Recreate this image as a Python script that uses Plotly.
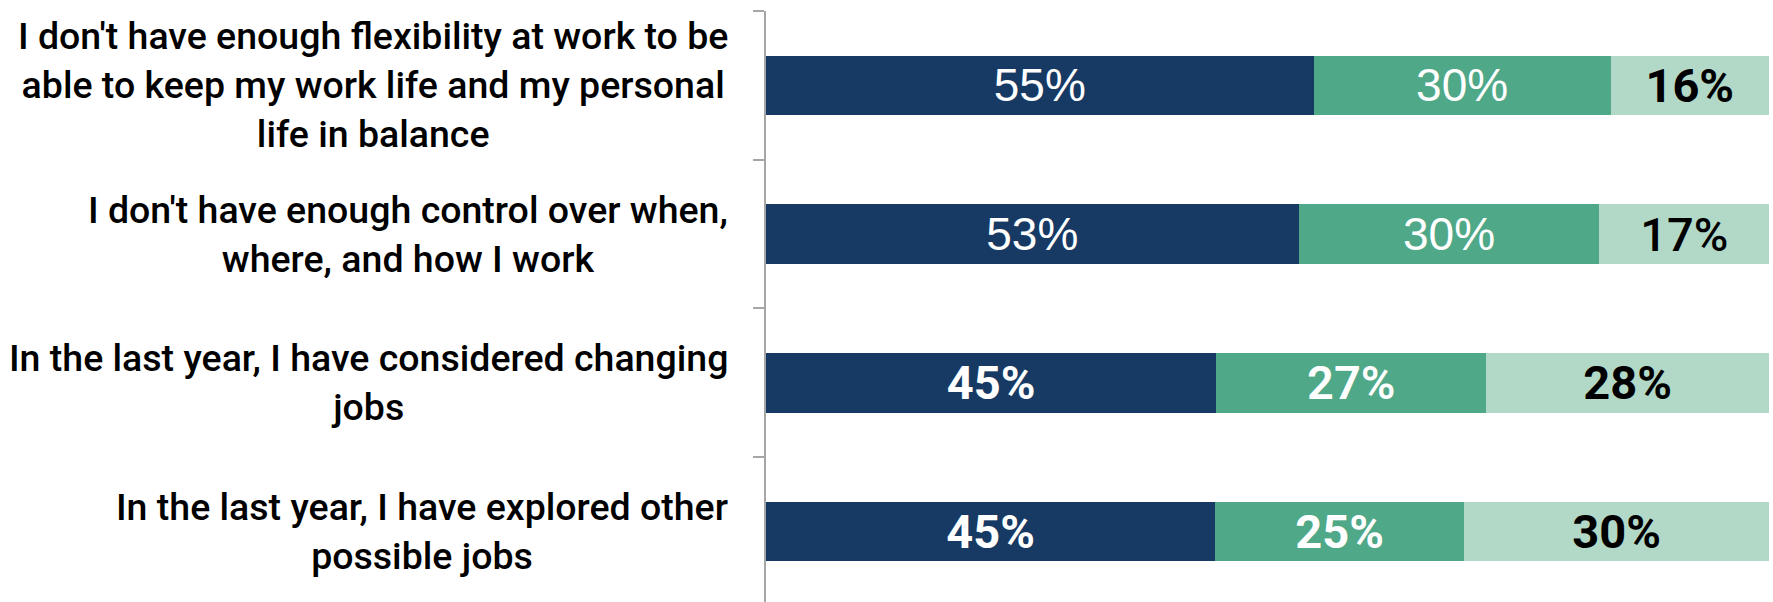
import plotly.graph_objects as go

categories = [
    "I don't have enough flexibility at work to be<br>able to keep my work life and my personal<br>life in balance",
    "I don't have enough control over when,<br>where, and how I work",
    "In the last year, I have considered changing<br>jobs",
    "In the last year, I have explored other<br>possible jobs",
]
series_a = [54.6, 53.1, 44.9, 44.8]
series_b = [29.6, 30.0, 26.9, 24.8]
series_c = [15.8, 16.9, 28.2, 30.4]

weight_a = [400, 400, 700, 700]
weight_b = [400, 400, 600, 700]
weight_c = [700, 500, 700, 700]

colors = ["#173a64", "#4fa888", "#b2d8c8"]
text_colors = ["white", "white", "black"]

order = list(reversed(categories))

fig = go.Figure()
for vals, wts, col, tcol in zip([series_a, series_b, series_c],
                                [weight_a, weight_b, weight_c], colors, text_colors):
    texts = [f"{v:.0f}%" for v in vals]
    fams = ["Liberation Sans" if w == 400 else "Roboto" for w in wts]
    sizes = [46 if w == 400 else 47 for w in wts]
    fig.add_trace(go.Bar(
        y=categories, x=vals, orientation="h",
        marker=dict(color=col, line=dict(width=0)),
        width=0.4,
        text=texts, textposition="inside", insidetextanchor="middle",
        textfont=dict(color=tcol, family=fams, size=sizes, weight=wts),
        constraintext="none",
        hoverinfo="skip",
        showlegend=False,
    ))

for cat in categories:
    fig.add_annotation(
        x=0, xref="paper", y=cat, yref="y",
        text=cat, showarrow=False,
        xanchor="right", yanchor="middle", align="center",
        xshift=-36,
        font=dict(family="Roboto", size=37.5, color="black", weight=500),
    )

fig.update_layout(
    barmode="stack",
    width=1773, height=602,
    margin=dict(l=766, r=4, t=11, b=0),
    plot_bgcolor="white", paper_bgcolor="white",
    xaxis=dict(range=[0, 100], visible=False, fixedrange=True),
    yaxis=dict(
        type="category", categoryorder="array", categoryarray=order,
        range=[-0.474, 3.5],
        showticklabels=False,
        showline=True, linecolor="#a6a6a6", linewidth=2,
        ticks="outside", tickson="boundaries", ticklen=11,
        tickcolor="#a6a6a6", tickwidth=2,
        showgrid=False, zeroline=False,
    ),
)

fig.write_html("out.html")
